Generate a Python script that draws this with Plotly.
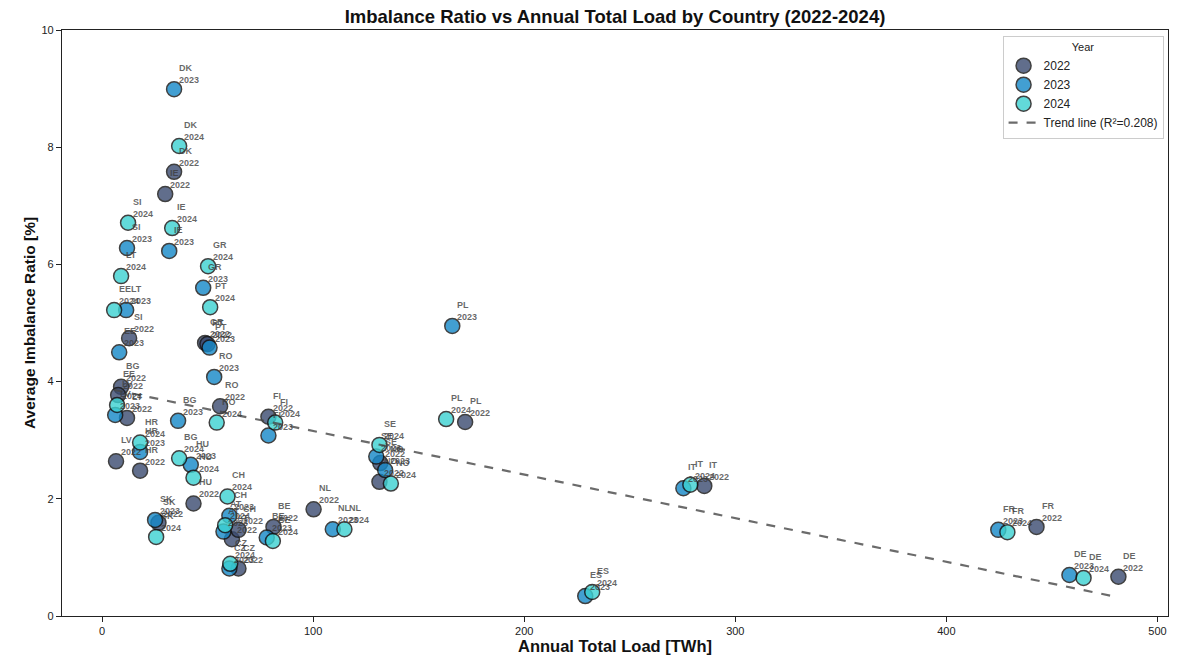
import numpy as np
import plotly.graph_objects as go

# ---- data ----
countries_2022 = ["DK", "IE", "SI", "BG", "EE", "LT", "LV", "HR", "GR", "PT", "RO", "FI", "HU",
                  "SK", "AT", "CH", "CZ", "BE", "NL", "SE", "NO", "PL", "IT", "FR", "DE"]
load_2022 = [34.1, 29.9, 12.8, 9.0, 7.6, 11.8, 6.6, 18.0, 48.8, 49.9, 55.9, 78.8, 43.3,
             26.7, 61.5, 64.6, 64.6, 81.2, 100.2, 131.8, 131.4, 172.0, 285.3, 442.7, 481.5]
ratio_2022 = [7.58, 7.20, 4.74, 3.91, 3.77, 3.38, 2.64, 2.48, 4.66, 4.64, 3.58, 3.40, 1.92,
              1.59, 1.31, 1.47, 0.81, 1.52, 1.82, 2.61, 2.29, 3.31, 2.22, 1.52, 0.67]

countries_2023 = ["DK", "SI", "IE", "GR", "LT", "EE", "PT", "RO", "LV", "BG", "FI", "HR", "HU",
                  "SK", "CH", "AT", "CZ", "BE", "NL", "SE", "NO", "PL", "IT", "ES", "FR", "DE"]
load_2023 = [34.1, 11.8, 31.8, 47.9, 11.4, 8.1, 50.9, 53.1, 6.2, 36.0, 78.8, 18.0, 42.0,
             25.1, 60.3, 57.5, 60.3, 78.0, 109.3, 129.9, 134.1, 165.9, 275.4, 228.9, 424.6, 458.3]
ratio_2023 = [8.99, 6.28, 6.23, 5.60, 5.22, 4.50, 4.58, 4.08, 3.43, 3.33, 3.08, 2.80, 2.58,
              1.64, 1.71, 1.44, 0.81, 1.34, 1.48, 2.72, 2.49, 4.95, 2.18, 0.34, 1.47, 0.70]

countries_2024 = ["DK", "IE", "SI", "GR", "LT", "EE", "PT", "RO", "LV", "BG", "FI", "HR", "HU",
                  "SK", "CH", "AT", "CZ", "BE", "NL", "SE", "NO", "PL", "IT", "ES", "FR", "DE"]
load_2024 = [36.5, 33.2, 12.3, 50.2, 9.0, 5.7, 51.2, 54.3, 7.1, 36.5, 82.0, 18.0, 43.3,
             25.6, 59.4, 58.3, 60.7, 80.9, 114.8, 131.4, 136.8, 163.0, 278.7, 232.2, 428.9, 465.0]
ratio_2024 = [8.02, 6.62, 6.71, 5.97, 5.80, 5.22, 5.27, 3.30, 3.60, 2.69, 3.30, 2.96, 2.36,
              1.35, 2.04, 1.55, 0.89, 1.28, 1.48, 2.92, 2.26, 3.36, 2.24, 0.41, 1.43, 0.65]

years = ["2022", "2023", "2024"]
year_colors = ["#3a4b70", "#1488c8", "#3cd2d2"]
trend_label = "Trend line (R²=0.208)"
x_ticks = [0, 100, 200, 300, 400, 500]
y_ticks = [0, 2, 4, 6, 8, 10]

series = [
    (countries_2022, load_2022, ratio_2022),
    (countries_2023, load_2023, ratio_2023),
    (countries_2024, load_2024, ratio_2024),
]

FONT = "Liberation Sans, Arial, sans-serif"

fig = go.Figure()
annotations = []
for (cs, xs, ys), yr, col in zip(series, years, year_colors):
    fig.add_trace(go.Scatter(
        x=xs, y=ys, mode="markers", name=yr,
        marker=dict(size=15, color=col, opacity=0.8,
                    line=dict(color="#111111", width=1.5)),
    ))
    for c, x, y in zip(cs, xs, ys):
        annotations.append(dict(
            x=x, y=y, xref="x", yref="y", text=f"<b>{c}<br>{yr}</b>",
            showarrow=False, xanchor="left", yanchor="bottom", align="left",
            xshift=4, yshift=3, borderpad=0,
            font=dict(family=FONT, size=9, color="rgba(60,60,60,0.78)"),
        ))

# trend line (least squares on all points)
all_x = np.array(load_2022 + load_2023 + load_2024)
all_y = np.array(ratio_2022 + ratio_2023 + ratio_2024)
slope, intercept = np.polyfit(all_x, all_y, 1)
tx = np.array([all_x.min(), all_x.max()])
fig.add_trace(go.Scatter(
    x=tx, y=slope * tx + intercept, mode="lines", name=trend_label,
    line=dict(color="rgba(70,70,70,0.8)", width=2.2, dash="dash"),
))

fig.update_layout(
    width=1180, height=655,
    margin=dict(l=62, r=12, t=30, b=39),
    paper_bgcolor="white", plot_bgcolor="white",
    font=dict(family=FONT, color="#222222", size=11),
    title=dict(text="<b>Imbalance Ratio vs Annual Total Load by Country (2022-2024)</b>",
               x=0.5, xref="paper", xanchor="center", y=0.975, yref="container", yanchor="middle",
               font=dict(size=18.5, color="#111111")),
    annotations=annotations,
    showlegend=True,
    legend=dict(x=0.996, y=0.99, xanchor="right", yanchor="top",
                bgcolor="rgba(255,255,255,0.9)", bordercolor="#cccccc", borderwidth=1,
                title=dict(text="Year", side="top center", font=dict(size=11)),
                font=dict(size=12), itemsizing="trace", tracegroupgap=0),
)
fig.update_xaxes(
    range=[-19, 505], tickvals=x_ticks, ticks="outside", ticklen=5, tickcolor="#222",
    showline=True, linecolor="#222", linewidth=1.2, mirror=True, showgrid=False, zeroline=False,
    tickfont=dict(size=11),
    title=dict(text="<b>Annual Total Load [TWh]</b>", font=dict(size=16.5, color="#111"), standoff=5),
    automargin=False,
)
fig.update_yaxes(
    range=[0, 10], tickvals=y_ticks, ticks="outside", ticklen=5, tickcolor="#222",
    showline=True, linecolor="#222", linewidth=1.2, mirror=True, showgrid=False, zeroline=False,
    tickfont=dict(size=11),
    title=dict(text="<b>Average Imbalance Ratio [%]</b>", font=dict(size=15.5, color="#111"), standoff=2),
    automargin=False,
)

fig.write_html("out.html")
